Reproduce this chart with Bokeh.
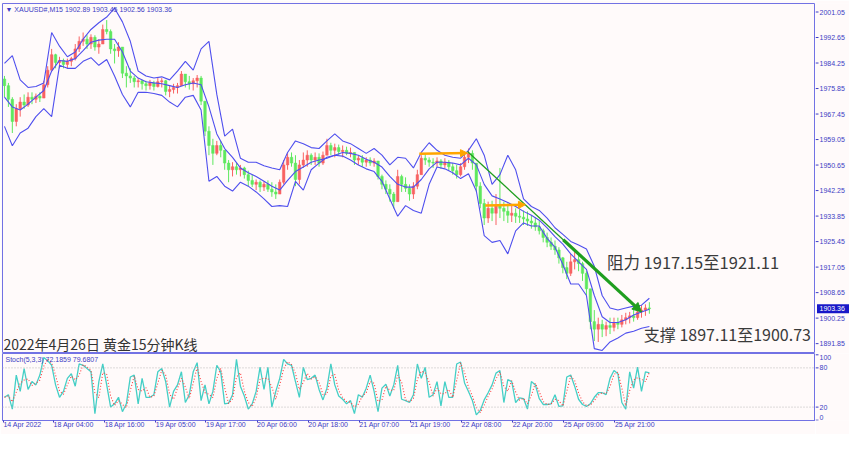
import numpy as np
import pandas as pd
from bokeh.plotting import figure
from bokeh.layouts import column, row
from bokeh.models import (ColumnDataSource, FixedTicker, Range1d, Label, Span, LinearAxis,
                          Arrow, NormalHead, CustomJSTickFormatter)
from bokeh.core.properties import value
from bokeh.embed import file_html
from bokeh.resources import INLINE

# ---------------- data ----------------
symbol_header = "XAUUSD#,M15"
last_bar_ohlc = [1902.89, 1903.45, 1902.56, 1903.36]
stoch_header_values = [72.1859, 79.6807]
current_price = 1903.36

first_open = 1979.0
highs = [
    1980.0, 1977.7, 1973.0, 1970.7, 1973.0, 1973.9, 1974.6, 1974.6, 1974.2, 1974.6,
    1978.4, 1983.2, 1988.9, 1987.3, 1986.3, 1985.7, 1985.7, 1986.3, 1990.5, 1993.0,
    1994.3, 1993.4, 1993.7, 1993.4, 1992.1, 1996.9, 1998.4, 1995.3, 1990.5, 1991.1,
    1987.3, 1983.2, 1982.5, 1980.0, 1979.3, 1978.7, 1978.4, 1978.7, 1978.4, 1979.3,
    1979.3, 1978.7, 1976.8, 1977.4, 1977.7, 1981.6, 1980.6, 1980.0, 1979.3, 1980.3,
    1980.0, 1971.4, 1963.4, 1959.3, 1958.6, 1958.6, 1955.5, 1952.3, 1951.6, 1951.3,
    1950.7, 1950.1, 1948.8, 1947.5, 1945.9, 1945.6, 1945.3, 1945.6, 1945.0, 1944.3,
    1945.9, 1952.3, 1954.5, 1954.8, 1953.9, 1952.3, 1954.8, 1955.5, 1954.5, 1954.8,
    1954.5, 1955.1, 1959.3, 1958.0, 1957.7, 1957.4, 1957.1, 1956.7, 1956.4, 1954.5,
    1953.9, 1953.9, 1953.2, 1953.2, 1952.9, 1951.3, 1947.5, 1945.6, 1944.3, 1941.8,
    1949.1, 1947.5, 1946.6, 1944.3, 1945.0, 1949.1, 1953.9, 1954.5, 1953.2, 1952.9,
    1953.2, 1952.6, 1952.9, 1952.3, 1951.3, 1950.7, 1951.3, 1954.5, 1956.1, 1955.5,
    1951.3, 1945.0, 1939.5, 1938.6, 1938.9, 1941.1, 1949.7, 1938.6, 1938.0, 1937.3,
    1936.4, 1936.0, 1935.7, 1935.4, 1934.1, 1933.5, 1932.2, 1929.7, 1928.4, 1926.8,
    1925.8, 1923.6, 1920.4, 1918.8, 1921.4, 1922.0, 1921.1, 1918.8, 1915.7, 1909.3,
    1902.9, 1900.4, 1899.7, 1899.1, 1900.4, 1900.4, 1900.4, 1901.3, 1902.0, 1902.3,
    1902.9, 1904.2, 1904.5, 1904.8, 1905.5,
]
lows = [
    1973.0, 1969.8, 1961.2, 1963.4, 1966.6, 1969.2, 1969.8, 1970.7, 1971.1, 1971.4,
    1973.0, 1976.2, 1982.5, 1982.5, 1982.5, 1982.5, 1982.5, 1983.2, 1985.1, 1987.9,
    1989.9, 1988.9, 1988.9, 1988.3, 1987.3, 1990.5, 1993.7, 1987.3, 1984.1, 1986.3,
    1979.3, 1976.2, 1977.7, 1976.2, 1976.2, 1975.5, 1975.2, 1975.5, 1975.2, 1976.2,
    1976.2, 1973.6, 1973.0, 1974.2, 1974.2, 1976.8, 1976.2, 1975.5, 1975.2, 1976.2,
    1970.4, 1960.2, 1953.9, 1950.7, 1953.9, 1953.2, 1949.1, 1945.0, 1946.9, 1947.5,
    1946.9, 1946.2, 1943.7, 1943.4, 1942.4, 1941.8, 1942.1, 1941.8, 1940.2, 1939.5,
    1941.1, 1944.3, 1949.1, 1950.1, 1943.7, 1944.3, 1949.7, 1950.1, 1950.7, 1950.7,
    1950.1, 1950.7, 1953.9, 1953.9, 1953.2, 1953.9, 1953.2, 1953.9, 1953.2, 1950.7,
    1950.7, 1950.1, 1950.1, 1950.4, 1950.1, 1945.9, 1942.7, 1941.1, 1938.6, 1936.4,
    1939.5, 1941.8, 1941.8, 1938.9, 1939.5, 1942.7, 1947.5, 1950.7, 1950.1, 1949.7,
    1950.1, 1949.4, 1949.7, 1948.8, 1947.5, 1946.2, 1946.9, 1949.1, 1951.3, 1949.1,
    1941.8, 1936.4, 1930.9, 1931.6, 1932.2, 1930.9, 1933.2, 1932.2, 1931.6, 1931.9,
    1931.6, 1931.6, 1930.9, 1930.6, 1929.7, 1929.0, 1927.8, 1925.2, 1923.6, 1922.7,
    1921.1, 1918.2, 1915.0, 1913.1, 1914.1, 1916.3, 1915.7, 1912.5, 1907.7, 1896.6,
    1892.7, 1892.4, 1894.0, 1894.3, 1895.0, 1895.9, 1896.6, 1897.2, 1898.2, 1898.5,
    1899.1, 1899.7, 1900.4, 1901.0, 1901.7,
]
closes = [
    1976.8, 1972.3, 1965.0, 1969.2, 1971.4, 1970.4, 1973.0, 1972.3, 1973.3, 1972.7,
    1977.1, 1981.9, 1987.0, 1984.4, 1985.1, 1983.8, 1984.8, 1985.7, 1988.9, 1991.4,
    1992.1, 1990.5, 1992.7, 1989.5, 1990.5, 1995.3, 1994.6, 1988.9, 1988.3, 1989.5,
    1980.9, 1980.0, 1979.3, 1978.1, 1978.4, 1977.4, 1976.8, 1977.7, 1976.5, 1978.1,
    1978.4, 1974.9, 1975.5, 1976.2, 1976.8, 1980.6, 1978.1, 1977.4, 1978.4, 1979.3,
    1971.7, 1961.8, 1957.1, 1954.5, 1957.1, 1955.5, 1951.3, 1949.1, 1950.1, 1949.1,
    1949.7, 1947.5, 1945.6, 1944.3, 1945.0, 1943.4, 1944.3, 1942.7, 1941.8, 1941.1,
    1945.0, 1950.7, 1953.2, 1951.3, 1945.9, 1950.7, 1952.3, 1953.9, 1952.3, 1953.2,
    1951.3, 1953.9, 1957.1, 1955.5, 1956.4, 1955.1, 1955.5, 1954.5, 1954.8, 1952.3,
    1952.9, 1951.6, 1952.3, 1951.3, 1952.0, 1946.9, 1944.3, 1942.7, 1941.1, 1938.6,
    1946.9, 1944.3, 1943.0, 1941.1, 1943.7, 1947.5, 1952.9, 1952.3, 1951.6, 1951.3,
    1952.0, 1950.7, 1951.6, 1950.1, 1948.8, 1947.5, 1950.1, 1953.2, 1954.5, 1951.3,
    1943.7, 1938.0, 1933.2, 1936.4, 1934.8, 1937.3, 1936.4, 1935.4, 1934.1, 1934.8,
    1933.8, 1933.5, 1932.9, 1932.2, 1931.6, 1930.3, 1929.0, 1926.8, 1925.2, 1923.9,
    1922.7, 1920.1, 1916.9, 1915.0, 1918.8, 1919.5, 1918.2, 1915.0, 1909.9, 1899.1,
    1896.6, 1898.2, 1896.6, 1897.8, 1897.2, 1898.8, 1898.2, 1899.7, 1900.4, 1901.0,
    1900.4, 1902.3, 1902.9, 1903.6, 1903.36,
]
# Bollinger band lines as drawn, read at every second bar
band_upper = [
    1984.1, 1986.7, 1978.7, 1976.2, 1976.5, 1977.7, 1994.3, 1989.8, 1986.3, 1987.9,
    1992.1, 1995.3, 1997.5, 1999.4, 2002.3, 1997.8, 1991.4, 1981.6, 1980.0, 1979.3,
    1979.7, 1978.7, 1981.6, 1984.8, 1981.9, 1988.9, 1991.4, 1973.9, 1960.2, 1962.5,
    1952.9, 1951.6, 1951.6, 1950.4, 1949.7, 1949.1, 1954.8, 1958.6, 1957.7, 1956.4,
    1956.1, 1958.6, 1960.9, 1958.6, 1957.7, 1956.1, 1954.5, 1956.1, 1953.9, 1950.7,
    1953.2, 1952.9, 1949.7, 1954.8, 1958.0, 1955.5, 1953.9, 1953.2, 1952.9, 1955.5,
    1959.3, 1953.9, 1944.3, 1947.5, 1953.9, 1949.1, 1939.5, 1937.0, 1935.7, 1933.2,
    1930.0, 1927.8, 1925.5, 1924.3, 1923.0, 1917.3, 1907.7, 1903.6, 1902.9, 1903.6,
    1904.2, 1904.5, 1906.8,
]
band_middle = [
    1973.0, 1969.8, 1968.8, 1970.7, 1973.0, 1975.2, 1981.6, 1985.1, 1984.8, 1985.7,
    1988.3, 1991.1, 1991.8, 1992.1, 1992.1, 1987.9, 1981.6, 1979.3, 1978.1, 1977.7,
    1977.4, 1976.8, 1976.2, 1977.1, 1977.7, 1977.1, 1969.8, 1960.9, 1956.1, 1953.2,
    1949.7, 1948.1, 1946.9, 1945.3, 1943.7, 1942.4, 1945.6, 1948.5, 1950.0, 1951.6,
    1952.3, 1952.9, 1953.9, 1954.8, 1954.5, 1953.9, 1952.6, 1951.6, 1950.0, 1946.9,
    1944.3, 1943.4, 1943.4, 1945.9, 1949.4, 1951.6, 1951.6, 1951.3, 1950.7, 1952.9,
    1950.7, 1944.3, 1940.5, 1939.5, 1938.3, 1937.0, 1935.4, 1934.1, 1932.5, 1930.0,
    1927.1, 1924.6, 1921.4, 1918.8, 1916.3, 1907.7, 1900.7, 1898.8, 1898.8, 1899.7,
    1901.3, 1902.3, 1903.2,
]
band_lower = [
    1963.4, 1957.0, 1961.2, 1962.8, 1966.6, 1969.2, 1966.6, 1983.5, 1982.5, 1982.5,
    1984.8, 1986.0, 1983.5, 1985.4, 1980.0, 1973.9, 1969.8, 1974.6, 1974.6, 1974.2,
    1973.6, 1971.4, 1969.8, 1973.0, 1973.6, 1968.8, 1945.3, 1946.9, 1943.7, 1942.1,
    1945.0, 1943.7, 1941.8, 1939.5, 1937.0, 1937.3, 1937.0, 1945.3, 1942.4, 1949.1,
    1951.3, 1953.2, 1953.9, 1953.6, 1952.3, 1950.7, 1949.4, 1948.5, 1945.3, 1939.5,
    1933.8, 1937.3, 1935.7, 1934.8, 1944.3, 1950.0, 1949.4, 1948.1, 1946.2, 1947.8,
    1942.1, 1927.4, 1925.2, 1925.8, 1921.4, 1929.0, 1931.6, 1930.6, 1930.6, 1926.5,
    1923.6, 1917.9, 1911.5, 1911.5, 1907.7, 1890.2, 1889.6, 1892.4, 1893.7, 1895.3,
    1895.9, 1896.9, 1897.5,
]
band_step = 2
stoch_k = [
    35, 39, 17, 69, 44, 79, 47, 59, 54, 69,
    96, 91, 84, 54, 35, 44, 64, 71, 52, 86,
    84, 79, 74, 10, 59, 86, 54, 20, 25, 35,
    13, 25, 66, 69, 25, 64, 35, 35, 39, 74,
    79, 59, 20, 44, 54, 74, 27, 39, 74, 88,
    30, 54, 25, 44, 84, 74, 25, 26, 39, 93,
    52, 37, 17, 25, 44, 81, 47, 81, 20, 44,
    64, 93, 86, 84, 59, 35, 81, 62, 64, 69,
    47, 31, 49, 86, 54, 37, 32, 25, 30, 10,
    39, 35, 49, 69, 44, 13, 49, 55, 37, 54,
    84, 32, 30, 27, 39, 86, 64, 81, 35, 39,
    59, 22, 59, 35, 35, 86, 89, 57, 44, 30,
    8, 15, 31, 42, 54, 72, 76, 27, 62, 59,
    27, 34, 33, 17, 59, 54, 33, 24, 24, 25,
    39, 21, 22, 66, 69, 52, 32, 24, 21, 25,
    35, 42, 42, 39, 64, 76, 71, 27, 17, 74,
    49, 81, 44, 74, 72.2,
]
price_ticks = [2001.05, 1992.65, 1984.25, 1975.85, 1967.45, 1959.05, 1950.65,
               1942.25, 1933.85, 1925.45, 1917.05, 1908.65, 1900.25, 1891.85]
stoch_ticks = [0, 20, 80, 100]
stoch_levels = [20, 80]
time_tick_pos = [-0.25, 12.5, 25.5, 38.5, 51.25, 64.25, 77.25, 90.25,
                 103.25, 116.25, 129.25, 142.25, 155.25]
time_labels = ["14 Apr 2022", "18 Apr 04:00", "18 Apr 16:00", "19 Apr 05:00",
               "19 Apr 17:00", "20 Apr 06:00", "20 Apr 18:00", "21 Apr 07:00",
               "21 Apr 19:00", "22 Apr 08:00", "22 Apr 20:00", "25 Apr 09:00",
               "25 Apr 21:00"]
title_text = "2022年4月26日 黄金15分钟K线"
resist_text = "阻力 1917.15至1921.11"
support_text = "支撑 1897.11至1900.73"
resist_anchor = (153.2, 1918.85)
support_anchor = (162.6, 1894.9)
# drawn objects: (bar index, price)
orange_arrows = [((105.5, 1954.4), (117.75, 1954.6)),
                 ((122.25, 1937.3), (132.5, 1937.6))]
green_arrow = ((117.75, 1955.1), (162.0, 1902.3))

# ---------------- style ----------------
BG = "#fffafa"
FRAME = "#7272e4"
TXT = "#3c3cc4"
RED = "#f86262"
GREEN = "#5ee85e"
BAND = "#4f4fee"
SMALL_FONT = "Liberation Sans"
CJK_FONT = "Noto Sans CJK SC"
MAIN_W = 815
SCALE_W = 34
MAIN_H = 353
ST_H = 81
TOP_PAD = 3
AXIS_PAD = 14
X_START, X_END = -0.5, 206.25
Y_MIN, Y_MAX = 1888.6, 2003.85

# ---------------- computation ----------------
n = len(closes)
idx = np.arange(n)
o = np.array([first_open] + closes[:-1], dtype=float)
c = np.array(closes, dtype=float)
h = np.array(highs, dtype=float)
l = np.array(lows, dtype=float)
up = c >= o
top = np.maximum(h, np.maximum(o, c))
bot = np.minimum(l, np.minimum(o, c))
colors = np.where(up, RED, GREEN)
band_x = np.arange(len(band_middle)) * band_step
stoch_d = pd.Series(stoch_k, dtype=float).rolling(2, min_periods=1).mean().values


def panel(width, height, x_range, y_range, **kw):
    f = figure(width=width, height=height, x_range=x_range, y_range=y_range,
               output_backend="svg", toolbar_location=None,
               x_axis_location=None, y_axis_location=None,
               background_fill_color=BG, border_fill_color=BG, **kw)
    f.grid.visible = False
    return f


def price_scale(y_range, ticks, labels, height, top_border, bottom_border, baselines):
    """Right-hand MT4 style price scale sharing the panel's vertical scale."""
    f = panel(SCALE_W, height, Range1d(0, SCALE_W), y_range,
              min_border_left=0, min_border_right=0,
              min_border_top=top_border, min_border_bottom=bottom_border,
              outline_line_color=None)
    f.segment(x0=0, x1=3, y0=ticks, y1=ticks, line_color=TXT, line_width=1)
    f.text(x=4, y=ticks, text=labels, text_font=value(SMALL_FONT),
           text_font_size=value("7px"), text_color=TXT,
           text_baseline=baselines, text_align="left")
    return f


# ---------------- main chart ----------------
XR = Range1d(X_START, X_END)
YR = Range1d(Y_MIN, Y_MAX)
main = panel(MAIN_W, MAIN_H, XR, YR, min_border_left=2, min_border_right=0,
             min_border_top=TOP_PAD, min_border_bottom=0,
             outline_line_color=FRAME, outline_line_width=1)

src = ColumnDataSource(dict(x=idx, top=top, bot=bot, bt=np.maximum(o, c),
                            bb=np.minimum(o, c), color=colors))
main.segment("x", "top", "x", "bot", source=src, line_color="color", line_width=1)
main.vbar(x="x", width=0.65, top="bt", bottom="bb", source=src,
          fill_color="color", line_color="color", line_width=0.5)

for band in (band_upper, band_middle, band_lower):
    main.line(band_x, band, line_color=BAND, line_width=1.1)

for (x0, y0), (x1, y1) in orange_arrows:
    main.add_layout(Arrow(end=NormalHead(size=7, fill_color="#ffa500", line_color="#ffa500"),
                          x_start=x0, y_start=y0, x_end=x1, y_end=y1,
                          line_color="#ffa500", line_width=2.5))

(gx0, gy0), (gx1, gy1) = green_arrow
main.segment(x0=[gx0], y0=[gy0], x1=[gx1], y1=[gy1], line_color="#1f9e1f", line_width=1.3)
gxm, gym = gx0 + 0.55 * (gx1 - gx0), gy0 + 0.55 * (gy1 - gy0)
main.add_layout(Arrow(end=NormalHead(size=9, fill_color="#1f9e1f", line_color="#1f9e1f"),
                      x_start=gxm, y_start=gym, x_end=gx1, y_end=gy1,
                      line_color="#1f9e1f", line_width=3.2))

header = "\u25bc " + symbol_header + "  " + " ".join(f"{v:.2f}" for v in last_bar_ohlc)
main.add_layout(Label(x=X_START, y=Y_MAX, x_offset=3, y_offset=-2, text=header,
                      text_baseline="top", text_font_size="7px", text_color=TXT,
                      text_font=SMALL_FONT))
main.add_layout(Label(x=X_START, y=Y_MIN, x_offset=1, y_offset=0, text=title_text,
                      text_baseline="bottom", text_font_size="14px",
                      text_font=CJK_FONT, text_color="#333333"))
main.add_layout(Label(x=resist_anchor[0], y=resist_anchor[1], text=resist_text,
                      text_baseline="middle", text_font_size="16.5px",
                      text_font=CJK_FONT, text_color="#3a3a3a"))
main.add_layout(Label(x=support_anchor[0], y=support_anchor[1], text=support_text,
                      text_baseline="middle", text_font_size="16px",
                      text_font=CJK_FONT, text_color="#3a3a3a"))

pscale = price_scale(YR, price_ticks, [f"{v:.2f}" for v in price_ticks], MAIN_H, TOP_PAD, 0,
                     "middle")
# highlighted current price
pscale.rect(x=SCALE_W / 2 + 0.5, y=current_price, width=SCALE_W - 2, height=9,
            height_units="screen", fill_color="#1818c8", line_color=None)
pscale.text(x=4, y=current_price, text=[f"{current_price:.2f}"], text_font=value(SMALL_FONT),
            text_font_size=value("7px"), text_color="white", text_baseline="middle",
            text_align="left")

# ---------------- stochastic ----------------
SR = Range1d(-0.5, 102)
st = panel(MAIN_W, ST_H, XR, SR, min_border_left=2, min_border_right=0,
           min_border_top=0, min_border_bottom=AXIS_PAD,
           outline_line_color=FRAME, outline_line_width=1)
xa = LinearAxis(ticker=FixedTicker(ticks=time_tick_pos))
xa.formatter = CustomJSTickFormatter(args=dict(pos=time_tick_pos, labels=time_labels), code="""
    let best = 0, d = 1e9;
    for (let i = 0; i < pos.length; i++) {
        const dd = Math.abs(pos[i] - tick);
        if (dd < d) { d = dd; best = i; }
    }
    return labels[best];
""")
xa.major_label_orientation = -0.0001
xa.axis_line_color = FRAME
xa.major_tick_line_color = TXT
xa.major_tick_out = 2
xa.major_tick_in = 0
xa.minor_tick_line_color = None
xa.major_label_text_font_size = "7px"
xa.major_label_text_color = TXT
xa.major_label_text_font = SMALL_FONT
xa.major_label_standoff = 2
st.add_layout(xa, "below")

for lv in stoch_levels:
    st.add_layout(Span(location=lv, dimension="width", line_color="#b8b8b8",
                       line_dash="1 2", line_width=1))
st.line(idx, stoch_k, line_color="#45cfc6", line_width=1.3)
st.line(idx, stoch_d, line_color="#ff3c3c", line_width=1.1, line_dash="1 2")
st.add_layout(Label(x=X_START, y=102, x_offset=3, y_offset=-2,
                    text="Stoch(5,3,3) " + " ".join(f"{v:.4f}" for v in stoch_header_values),
                    text_baseline="top", text_font_size="7px", text_color=TXT,
                    text_font=SMALL_FONT))

sscale = price_scale(SR, stoch_ticks, [str(v) for v in stoch_ticks], ST_H, 0, AXIS_PAD,
                     ["bottom", "middle", "middle", "top"])

layout = column(row(main, pscale, spacing=0), row(st, sscale, spacing=0), spacing=0)
open("out.html", "w").write(file_html(layout, INLINE))
